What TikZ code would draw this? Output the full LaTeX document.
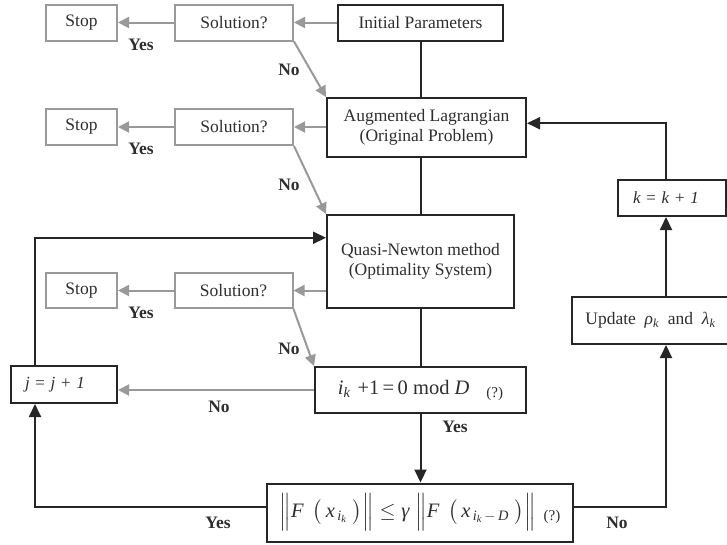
\documentclass[tikz,border=0pt]{standalone}
\usepackage{amsmath}
\usepackage{fontspec}
\setmainfont{Liberation Serif}
\usetikzlibrary{arrows.meta,calc}

\newlength{\du}
\setlength{\du}{1\unitlength}

\definecolor{boxblack}{rgb}{0.150000, 0.150000, 0.150000}
\definecolor{linegray}{rgb}{0.600000, 0.600000, 0.600000}
\definecolor{textblack}{rgb}{0.180000, 0.180000, 0.180000}

\newcommand{\boxfont}{\fontsize{17.5}{20}\selectfont}
\newcommand{\incfont}{\fontsize{17}{20}\selectfont}
\newcommand{\testfont}{\fontsize{20.5}{24}\selectfont}
\newcommand{\qfont}{\fontsize{15}{17}\selectfont}
\newcommand{\ti}[1]{\text{\itshape #1}}

\tikzset{
  mainbox/.style={draw=boxblack, line width=2\du, fill=white, text=textblack, inner sep=0pt, align=center, font=\boxfont},
  sidebox/.style={draw=linegray, line width=2\du, fill=white, text=textblack, inner sep=0pt, minimum height=36\du, font=\boxfont},
  grayarrow/.style={draw=linegray, line width=2\du, -{Triangle[length=11pt,width=11pt]}},
  blackline/.style={draw=boxblack, line width=2\du},
  blackarrow/.style={blackline, -{Triangle[length=13pt,width=12pt]}},
  answer/.style={font=\boxfont\bfseries, text=textblack, inner sep=0pt},
}

\begin{document}
\begin{tikzpicture}
\pgftransformyscale{-1.000000}
\useasboundingbox (0\du,0\du) rectangle (727\du,544\du);
% main column
\node[mainbox, minimum width=165\du, minimum height=36\du] (init) at (420.5\du,22.5\du){Initial Parameters};
\node[mainbox, minimum width=199\du, minimum height=59\du] (aug) at (426.5\du,127.5\du){Augmented Lagrangian\\(Original Problem)};
\node[mainbox, minimum width=187\du, minimum height=93\du] (qn) at (420.5\du,261.5\du){Quasi-Newton method\\(Optimality System)};
\node[mainbox, minimum width=211\du, minimum height=46\du, font=\testfont] (modtest) at (420.5\du,390\du){\textit{i}\textsubscript{\textit{k}}\,\,+1\,=\,0 mod \textit{D}\hspace{17\du}\raisebox{-3pt}{\qfont(?)}};
\node[mainbox, minimum width=306\du, minimum height=58\du, font=\testfont] (normtest) at (420\du,512.5\du){$\Big\|\ti{F}\;\,\bigl(\,\ti{x}_{\,\ti{i}_{\ti{k}}}\;\bigr)\Big\|\le\ti{γ}\;\Big\|\ti{F}\;\,\bigl(\,\ti{x}_{\,\ti{i}_{\ti{k}}\,-\,\ti{D}}\;\bigr)\Big\|$\hspace{8\du}\raisebox{-3pt}{\qfont(?)}};
% counters and update
\node[mainbox, minimum height=37\du, text width=78\du, align=left, inner xsep=14\du, font=\incfont] (jinc) at (64\du,384.5\du){\textit{j} = \textit{j} + \textit{1}};
\node[mainbox, minimum height=36\du, text width=78\du, align=left, inner xsep=15\du, font=\incfont] (kinc) at (672\du,198\du){\textit{k} = \textit{k} + \textit{1}};
\node[mainbox, minimum width=157\du, minimum height=47\du] (update) at (650.5\du,320.5\du){Update~~\textit{ρ}\textsubscript{\textit{k}}~~and~~\textit{λ}\textsubscript{\textit{k}}};
% side tests
\node[sidebox, minimum width=71\du] (stopA) at (81.5\du,22.5\du){Stop};
\node[sidebox, minimum width=118\du] (solA) at (234\du,22.5\du){Solution?};
\node[sidebox, minimum width=71\du] (stopB) at (81.5\du,127\du){Stop};
\node[sidebox, minimum width=118\du] (solB) at (234\du,127\du){Solution?};
\node[sidebox, minimum width=71\du, minimum height=35\du] (stopC) at (81.5\du,290.5\du){Stop};
\node[sidebox, minimum width=118\du, minimum height=35\du] (solC) at (233.5\du,290.5\du){Solution?};
\coordinate (leftrun) at (35\du,507\du);
\coordinate (rightrun) at (666\du,507\du);
% gray connectors
\draw[grayarrow] (init.west) -- (solA.east);
\draw[grayarrow] (solA.west) -- (stopA.east);
\draw[grayarrow] (solA.south east) -- (aug.north west);
\draw[grayarrow] (aug.west |- solB.east) -- (solB.east);
\draw[grayarrow] (solB.west) -- (stopB.east);
\draw[grayarrow] (solB.south east) -- (qn.north west);
\draw[grayarrow] (qn.west |- solC.east) -- (solC.east);
\draw[grayarrow] (solC.west) -- (stopC.east);
\draw[grayarrow] (solC.south east) -- (modtest.north west);
\draw[grayarrow] (modtest.west) -- (modtest.west -| jinc.east);
% black connectors
\draw[blackline] (init.south) -- (init.south |- aug.north);
\draw[blackline] (qn.north |- aug.south) -- (qn.north);
\draw[blackline] (qn.south) -- (qn.south |- modtest.north);
\draw[blackarrow] (modtest.south) -- (modtest.south |- normtest.north);
\draw[blackarrow] (jinc.north -| leftrun) |- ($(qn.north west)!0.25!(qn.south west)$);
\draw[blackarrow] (normtest.west |- leftrun) -- (leftrun) -- (jinc.south -| leftrun);
\draw[blackarrow] (normtest.east |- rightrun) -- (rightrun) -- (update.south -| rightrun);
\draw[blackarrow] (update.north -| rightrun) -- (kinc.south -| rightrun);
\draw[blackarrow] (kinc.north -| rightrun) |- ($(aug.north east)!0.43!(aug.south east)$);
% answers
\node[answer] (yesA) at (141\du,45\du){Yes};
\node[answer] (noA) at (289\du,70\du){No};
\node[answer] (yesB) at (141\du,149\du){Yes};
\node[answer] (noB) at (289\du,185\du){No};
\node[answer] (yesC) at (141\du,313\du){Yes};
\node[answer] (noC) at (289\du,349\du){No};
\node[answer] (noD) at (219\du,407\du){No};
\node[answer] (yesD) at (455\du,427\du){Yes};
\node[answer] (yesE) at (218\du,523\du){Yes};
\node[answer] (noE) at (617\du,523\du){No};
\end{tikzpicture}
\end{document}
